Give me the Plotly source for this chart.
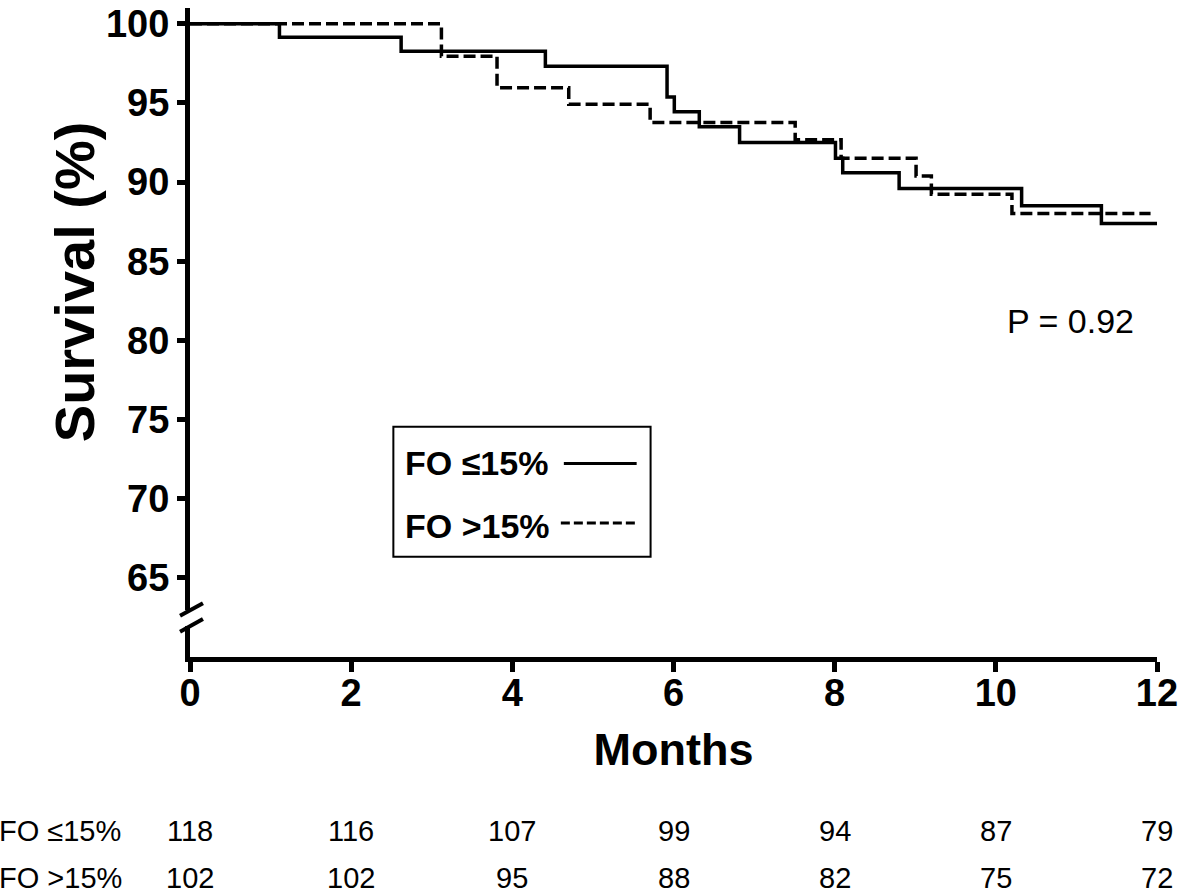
import plotly.graph_objects as go

# ---- data ----
months_le15 = [0, 1.11, 2.62, 4.41, 5.92, 6.01, 6.32, 6.82, 8.01, 8.10, 8.80, 10.32, 11.31, 12.0]
surv_le15 = [100, 99.15, 98.26, 97.32, 95.38, 94.44, 93.5, 92.51, 91.51, 90.59, 89.59, 88.5, 87.39, 87.39]

months_gt15 = [0, 3.12, 3.81, 4.70, 5.71, 7.51, 8.08, 9.01, 9.20, 10.20, 11.92]
surv_gt15 = [100, 97.95, 95.96, 94.92, 93.77, 92.68, 91.51, 90.38, 89.23, 88.02, 88.02]

series_names = ["FO ≤15%", "FO >15%"]
risk_times = [0, 2, 4, 6, 8, 10, 12]
risk_le15 = [118, 116, 107, 99, 94, 87, 79]
risk_gt15 = [102, 102, 95, 88, 82, 75, 72]
x_ticks = [0, 2, 4, 6, 8, 10, 12]
y_ticks = [65, 70, 75, 80, 85, 90, 95, 100]
p_text = "P = 0.92"
x_title = "Months"
y_title = "Survival (%)"

FONT = "Arial, Liberation Sans, sans-serif"

fig = go.Figure()
fig.add_trace(go.Scatter(x=months_le15, y=surv_le15, mode="lines", line_shape="hv",
                         name=series_names[0], line=dict(color="black", width=3.5)))
fig.add_trace(go.Scatter(x=months_gt15, y=surv_gt15, mode="lines", line_shape="hv",
                         name=series_names[1], line=dict(color="black", width=3.5, dash="12px,5px")))

fig.update_layout(
    width=1181, height=896,
    margin=dict(l=190, r=21, t=3, b=239),
    plot_bgcolor="white", paper_bgcolor="white",
    showlegend=False,
    font=dict(family=FONT, color="black"),
)
fig.update_xaxes(
    range=[0, 12], tickvals=x_ticks, ticktext=[str(v) for v in x_ticks],
    showline=True, linecolor="black", linewidth=5,
    ticks="outside", ticklen=10, tickwidth=5, tickcolor="black",
    showgrid=False, zeroline=False, ticklabeloverflow="allow",
    ticklabelstandoff=-12,
    tickfont=dict(family=FONT, size=38, color="black", weight="bold"),
    title=dict(text=f"<b>{x_title}</b>", font=dict(family=FONT, size=45, color="black"), standoff=22),
)
fig.update_yaxes(
    range=[60, 101], tickvals=y_ticks, ticktext=[str(v) for v in y_ticks],
    showline=True, linecolor="black", linewidth=5,
    ticks="outside", ticklen=8, tickwidth=5, tickcolor="black",
    showgrid=False, zeroline=False, ticklabeloverflow="allow",
    tickfont=dict(family=FONT, size=38, color="black", weight="bold"),
)

def yp(v):
    return (v - 60) / 41.0

shapes = []
# axis break on y axis
shapes.append(dict(type="rect", xref="paper", yref="paper", x0=-0.009, x1=0.009,
                   y0=yp(61.95), y1=yp(62.95), fillcolor="white", line=dict(width=0), layer="above"))
for base in (62.6, 61.6):
    shapes.append(dict(type="line", xref="paper", yref="paper", x0=-0.0103, x1=0.0134,
                       y0=yp(base), y1=yp(base + 0.8), line=dict(color="black", width=4), layer="above"))
# legend box
shapes.append(dict(type="rect", xref="paper", yref="paper", x0=0.2103, x1=0.4763, y0=0.1544, y1=0.3547,
                   line=dict(color="black", width=2), fillcolor="rgba(0,0,0,0)"))
shapes.append(dict(type="line", xref="paper", yref="paper", x0=0.3866, x1=0.4619, y0=0.2982, y1=0.2982,
                   line=dict(color="black", width=3)))
shapes.append(dict(type="line", xref="paper", yref="paper", x0=0.3835, x1=0.4619, y0=0.2064, y1=0.2064,
                   line=dict(color="black", width=3, dash="9px,4px")))
fig.update_layout(shapes=shapes)

ann = []
ann.append(dict(text=f"<b>{y_title}</b>", xref="paper", yref="paper", x=-0.1186, y=0.578,
                xanchor="center", yanchor="middle", textangle=-90, showarrow=False,
                font=dict(size=56)))
ann.append(dict(text=f"<b>{series_names[0]}</b>", xref="paper", yref="paper", x=0.2206, y=0.2982,
                xanchor="left", yanchor="middle", showarrow=False, font=dict(size=34)))
ann.append(dict(text=f"<b>{series_names[1]}</b>", xref="paper", yref="paper", x=0.2206, y=0.2018,
                xanchor="left", yanchor="middle", showarrow=False, font=dict(size=34)))
ann.append(dict(text=p_text, xref="x", yref="y", x=10.93, y=81.2, xanchor="center", yanchor="middle",
                showarrow=False, font=dict(size=34)))

row_y = [-0.2676, -0.341]
for name, counts, ry in zip(series_names, [risk_le15, risk_gt15], row_y):
    ann.append(dict(text=name, xref="paper", yref="paper", x=-0.2, y=ry, xanchor="left",
                    yanchor="middle", showarrow=False, font=dict(size=29)))
    for t, c in zip(risk_times, counts):
        ann.append(dict(text=str(c), xref="x", yref="paper", x=t, y=ry, xanchor="center",
                        yanchor="middle", showarrow=False, font=dict(size=29)))
fig.update_layout(annotations=ann)

fig.write_html("out.html", config={"displayModeBar": False},
               post_script="document.body.style.margin='0';document.body.style.overflow='hidden';")
